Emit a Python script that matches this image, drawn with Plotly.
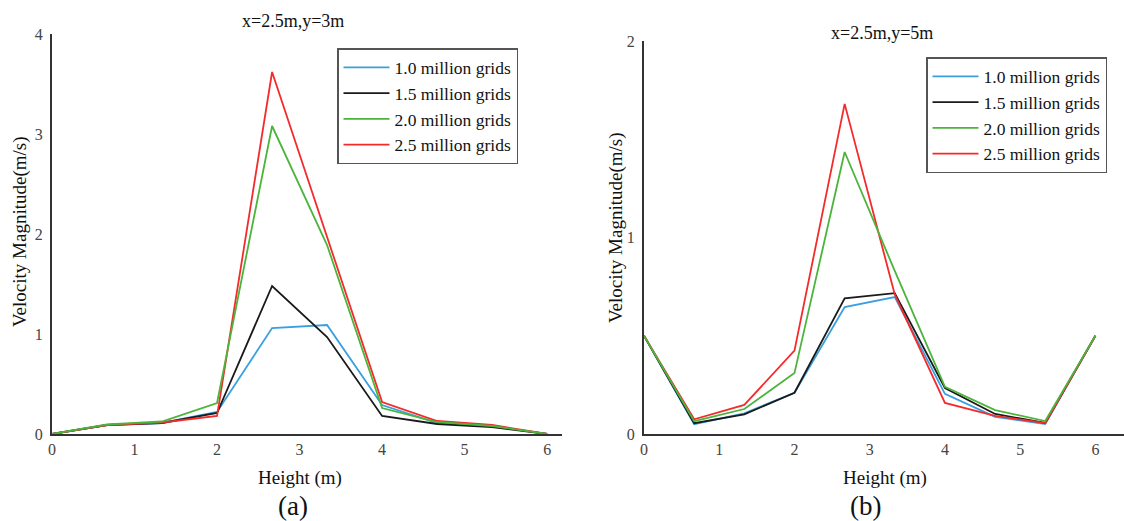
import plotly.graph_objects as go

# Sampling heights (m) along the vertical probe line
heights = [0, 0.667, 1.333, 2.0, 2.667, 3.333, 4.0, 4.667, 5.333, 6.0]

series_names = ["1.0 million grids", "1.5 million grids", "2.0 million grids", "2.5 million grids"]
series_colors = ["#3a9fdf", "#1a1a1a", "#4cb43c", "#f52a2a"]

# Probe at x=2.5m, y=3m
vel_a_10 = [0, 0.09, 0.11, 0.22, 1.06, 1.09, 0.29, 0.11, 0.08, 0.0]
vel_a_15 = [0, 0.09, 0.11, 0.21, 1.48, 0.97, 0.18, 0.10, 0.07, 0.0]
vel_a_20 = [0, 0.095, 0.125, 0.31, 3.08, 1.89, 0.26, 0.12, 0.08, 0.0]
vel_a_25 = [0, 0.09, 0.115, 0.18, 3.62, 1.97, 0.32, 0.13, 0.09, 0.0]

# Probe at x=2.5m, y=5m
vel_b_10 = [0.50, 0.05, 0.105, 0.21, 0.646, 0.697, 0.204, 0.087, 0.051, 0.50]
vel_b_15 = [0.50, 0.055, 0.10, 0.21, 0.69, 0.717, 0.234, 0.102, 0.056, 0.50]
vel_b_20 = [0.50, 0.065, 0.127, 0.31, 1.435, 0.83, 0.24, 0.122, 0.066, 0.50]
vel_b_25 = [0.50, 0.075, 0.148, 0.424, 1.68, 0.71, 0.158, 0.092, 0.056, 0.50]

panel_a = [vel_a_10, vel_a_15, vel_a_20, vel_a_25]
panel_b = [vel_b_10, vel_b_15, vel_b_20, vel_b_25]

FONT = "Liberation Serif"
W, H = 1124, 521

fig = go.Figure()

# draw order puts the green series on top; legend order follows grid size
draw_order = [0, 1, 3, 2]
for panel, (xa, ya, leg) in zip([panel_a, panel_b], [("x", "y", "legend"), ("x2", "y2", "legend2")]):
    for i in draw_order:
        fig.add_trace(go.Scatter(
            x=heights, y=panel[i], mode="lines", name=series_names[i],
            line=dict(color=series_colors[i], width=1.8),
            xaxis=xa, yaxis=ya, legend=leg, legendrank=i + 1,
        ))

axis_common = dict(
    showgrid=False, zeroline=False, showline=True, linecolor="#333333", linewidth=2,
    ticks="", automargin=False,
    tickfont=dict(family=FONT, size=16, color="#444444"),
)

legend_common = dict(
    xanchor="left", yanchor="top",
    bgcolor="white", bordercolor="#555555", borderwidth=1.5,
    font=dict(family=FONT, size=17.5, color="#111111"),
    tracegroupgap=0, itemwidth=46,
)

fig.update_layout(
    width=W, height=H,
    margin=dict(l=0, r=0, t=0, b=0, autoexpand=False),
    paper_bgcolor="white", plot_bgcolor="white",
    font=dict(family=FONT, color="#111111"),
    xaxis=dict(domain=[52 / W, 562 / W], range=[0, 6.18], tickvals=[0, 1, 2, 3, 4, 5, 6],
               anchor="y", **axis_common),
    yaxis=dict(domain=[(H - 434) / H, (H - 34) / H], range=[0, 4], tickvals=[0, 1, 2, 3, 4],
               anchor="x", ticklabelstandoff=4, **axis_common),
    xaxis2=dict(domain=[644 / W, 1.0], range=[0, 6.38], tickvals=[0, 1, 2, 3, 4, 5, 6],
                anchor="y2", **axis_common),
    yaxis2=dict(domain=[(H - 434) / H, (H - 41) / H], range=[0, 2], tickvals=[0, 1, 2],
                anchor="x2", ticklabelstandoff=4, **axis_common),
    legend=dict(x=337 / W, y=1 - 48 / H, **legend_common),
    legend2=dict(x=926 / W, y=1 - 57 / H, **legend_common),
    showlegend=True,
)

def text(x, y, s, size, angle=0):
    fig.add_annotation(
        x=x / W, y=1 - y / H, xref="paper", yref="paper", text=s, showarrow=False,
        xanchor="center", yanchor="middle", textangle=angle,
        font=dict(family=FONT, size=size, color="#111111"),
    )

text(293, 21, "x=2.5m,y=3m", 18)
text(882, 33, "x=2.5m,y=5m", 18)
text(300, 478, "Height (m)", 19)
text(885, 478, "Height (m)", 19)
text(293, 506, "(a)", 27)
text(865, 506, "(b)", 27)
text(20, 232, "Velocity Magnitude(m/s)", 19, angle=-90)
text(616, 228, "Velocity Magnitude(m/s)", 19, angle=-90)

fig.write_html("out.html")
